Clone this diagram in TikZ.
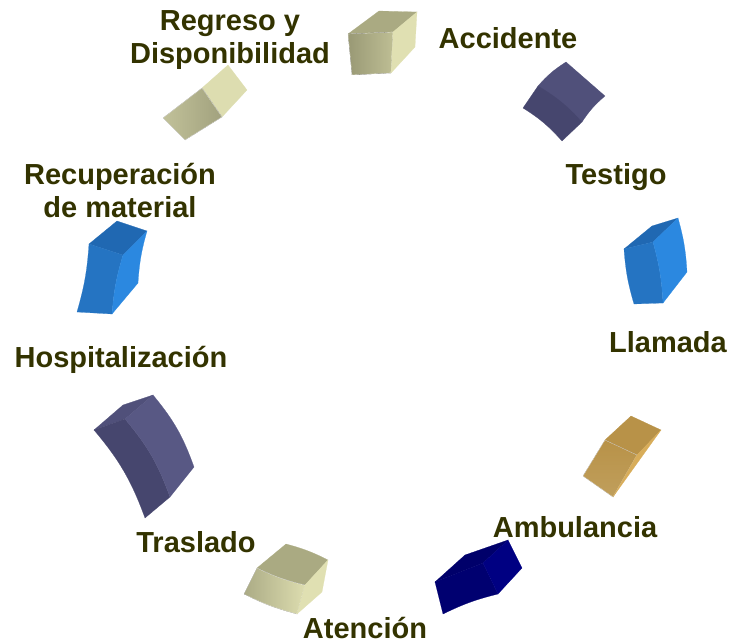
\documentclass[tikz,border=0pt]{standalone}
\usepackage{fontspec}
\setmainfont{Liberation Sans}
\definecolor{olivetxt}{RGB}{51,51,0}
\definecolor{beigetop}{RGB}{170,170,130}
\definecolor{beigefront}{RGB}{190,190,148}
\definecolor{beigeside}{RGB}{224,224,178}
\definecolor{slatetop}{RGB}{80,80,122}
\definecolor{slatefront}{RGB}{70,70,110}
\definecolor{slateside}{RGB}{88,88,132}
\definecolor{bluetop}{RGB}{32,104,178}
\definecolor{bluefront}{RGB}{37,116,194}
\definecolor{blueside}{RGB}{43,136,224}
\definecolor{goldtop}{RGB}{184,146,72}
\definecolor{goldfront}{RGB}{185,148,74}
\definecolor{goldside}{RGB}{216,173,90}
\definecolor{navytop}{RGB}{0,0,106}
\definecolor{navyfront}{RGB}{0,0,112}
\definecolor{navyside}{RGB}{0,0,130}
\tikzset{
  steplabel/.style={font=\bfseries\fontsize{29}{33}\selectfont, text=olivetxt, anchor=base, inner sep=0pt, align=center},
  face/.style={draw=white, line width=0.2pt}
}
\begin{document}
\begin{tikzpicture}[x=1pt,y=-1pt]
\useasboundingbox (0,0) rectangle (729,642);

% Accidente
\fill[face,color=beigetop] (379,11) -- (417,12) -- (393,32) -- (348,34) -- cycle;
\fill[face,left color=beigetop!90!black,right color=beigefront] (348,34) -- (393,32) -- (391,73) -- (352,75) -- cycle;
\fill[face,color=beigeside] (393,32) -- (417,12) -- (415,47) -- (391,73) -- cycle;

% Testigo
\fill[face,color=slatetop] (538,86) to [bend left=8] (566,62) -- (605,96) to [bend right=8] (582,122) -- cycle;
\fill[face,color=slatefront] (523,108) -- (538,86) to [bend left=8] (582,122) -- (562,141) to [bend right=8] cycle;

% Llamada
\fill[face,color=bluetop] (624,249) -- (652,226) -- (678,218) -- (653,242) -- cycle;
\fill[face,color=bluefront] (624,249) -- (653,242) to [bend left=6] (663,303) -- (634,304) to [bend left=6] cycle;
\fill[face,color=blueside] (653,242) -- (678,218) to [bend left=6] (687,272) -- (663,303) to [bend right=6] cycle;

% Ambulancia
\fill[face,color=goldtop] (605,440) -- (631,416) -- (661,430) -- (637,455) -- cycle;
\fill[face,top color=goldtop,bottom color=goldfront!90!white] (605,440) -- (637,455) -- (613,497) -- (583,476) -- cycle;
\fill[face,color=goldside] (637,455) -- (661,430) -- (613,497) -- cycle;

% Atencion
\fill[face,color=navytop] (435,582) -- (465,555) -- (508,540) -- (483,563) -- cycle;
\fill[face,color=navyfront] (435,582) -- (483,563) -- (498,594) to [bend right=6] (443,614) -- cycle;
\fill[face,color=navyside] (483,563) -- (508,540) -- (522,568) -- (498,594) -- cycle;

% Traslado
\fill[face,color=beigetop] (257,568) -- (286,544) to [bend left=6] (328,560) -- (305,585) to [bend left=6] cycle;
\fill[face,left color=beigefront!90!black,right color=beigeside!90!beigefront] (257,568) to [bend right=6] (305,585) -- (297,614) to [bend left=6] (244,594) -- cycle;
\fill[face,color=beigeside] (305,585) -- (328,560) -- (322,592) -- (297,614) -- cycle;

% Hospitalizacion
\fill[face,color=slatetop] (94,430) -- (123,405) -- (153,395) -- (125,419) -- cycle;
\fill[face,color=slatefront] (94,430) -- (125,419) to [bend left=10] (170,497) -- (145,518) to [bend right=10] cycle;
\fill[face,color=slateside] (125,419) -- (153,395) to [bend left=10] (194,467) -- (170,497) to [bend right=10] cycle;

% Recuperacion de material
\fill[face,color=bluetop] (89,244) -- (117,221) -- (147,231) -- (123,255) -- cycle;
\fill[face,color=bluefront] (89,244) -- (123,255) to [bend right=6] (112,314) -- (77,312) to [bend right=6] cycle;
\fill[face,color=blueside] (123,255) -- (147,231) to [bend right=6] (138,283) -- (112,314) to [bend left=6] cycle;

% Regreso y Disponibilidad
\fill[face,color=beigeside!92!beigefront] (228,65) -- (247,90) -- (222,117) -- (202,88) -- cycle;
\fill[face,left color=beigefront!95!white,right color=beigefront!85!black] (202,88) -- (222,117) -- (185,140) -- (163,118) -- cycle;

\node[steplabel] (regreso) at (230,64) {Regreso y\\Disponibilidad};
\node[steplabel] (accidente) at (508,49) {Accidente};
\node[steplabel] (testigo) at (616,184) {Testigo};
\node[steplabel] (llamada) at (668,352) {Llamada};
\node[steplabel] (ambulancia) at (575,537) {Ambulancia};
\node[steplabel] (atencion) at (365,638) {Atención};
\node[steplabel] (traslado) at (196,552) {Traslado};
\node[steplabel] (hospital) at (121,367) {Hospitalización};
\node[steplabel] (recuperacion) at (120,217) {Recuperación\\de material};

\end{tikzpicture}
\end{document}
